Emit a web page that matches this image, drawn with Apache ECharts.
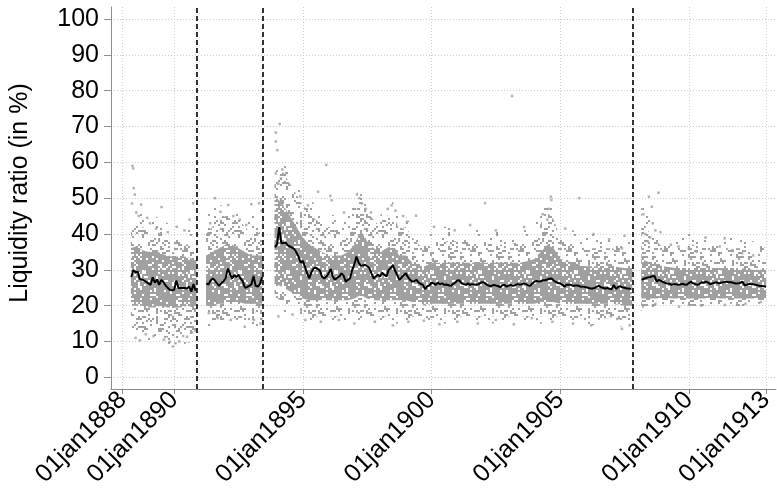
<!DOCTYPE html>
<html>
<head>
<meta charset="utf-8">
<title>Liquidity ratio</title>
<script src="https://cdn.jsdelivr.net/npm/echarts@6.0.0/dist/echarts.min.js"></script>
<style>
  html, body { margin: 0; padding: 0; background: #fff; }
  #main { width: 777px; height: 494px; }
</style>
</head>
<body>
<div id="main"></div>
<script>
// x values are decimal years
var xTicks = [1888, 1890, 1895, 1900, 1905, 1910, 1913];
var yTicks = [0, 10, 20, 30, 40, 50, 60, 70, 80, 90, 100];
var crisisDates = [1890.875, 1893.45, 1907.83];

// monthly average (black line), one array per segment, first month in lineStarts
var lineStarts = [1888 + 4 / 12, 1891 + 3 / 12, 1893 + 11 / 12, 1908 + 2 / 12];
var line1 = [28.0, 29.9, 29.3, 29.5, 27.4, 27.3, 27.0, 26.6, 26.2, 25.8,
  27.9, 26.4, 27.3, 25.8, 27.2, 26.6, 25.6, 25.0, 24.4, 24.3,
  24.4, 27.0, 24.9, 24.9, 24.9, 24.9, 24.8, 25.3, 23.9, 26.0, 24.2];
var line2 = [26.2, 25.9, 27.0, 27.6, 27.0, 26.2, 25.5, 26.3, 26.8, 27.6,
  30.4, 28.9, 27.6, 28.5, 28.0, 28.6, 27.6, 26.8, 25.0, 25.2,
  25.5, 25.9, 28.3, 25.5, 25.3, 26.0, 28.0];
var line3 = [36.2,
  37.2, 42.0, 37.4, 37.5, 37.6, 36.8, 36.5, 36.2, 35.8, 34.8, 33.7, 32.0,
  32.5, 30.9, 29.0, 27.6, 29.3, 30.4, 30.6, 30.2, 29.7, 28.0, 27.6, 28.1,
  29.0, 30.2, 28.1, 27.2, 27.8, 28.1, 29.0, 28.4, 26.7, 27.2, 27.6, 29.9,
  31.5, 33.7, 32.0, 31.2, 31.2, 31.4, 31.0, 30.5, 29.0, 27.6, 28.1, 28.6,
  28.1, 29.2, 28.6, 28.1, 29.9, 30.5, 31.3, 29.8, 28.5, 27.2, 27.8, 28.5,
  29.0, 28.0, 27.2, 26.7, 26.8, 27.2, 26.4, 26.1, 25.8, 24.6, 25.4, 25.6,
  26.4, 26.2, 25.8, 26.4, 26.0, 26.2, 25.8, 25.9, 25.7, 25.5, 26.0, 26.4,
  27.0, 27.1, 26.2, 26.0, 25.8, 26.2, 25.8, 26.0, 25.9, 25.8, 26.0, 26.4,
  26.6, 26.2, 25.8, 25.5, 25.5, 25.8, 25.6, 25.5, 25.1, 25.7, 25.8, 25.3,
  25.6, 25.8, 25.5, 25.7, 26.0, 25.9, 25.9, 26.2, 26.0, 25.7, 25.5, 26.2,
  26.7, 26.9, 26.7, 26.8, 27.1, 27.1, 27.3, 27.5, 27.6, 27.0, 26.6, 26.3,
  26.2, 25.8, 25.3, 25.8, 25.8, 25.8, 25.5, 25.6, 25.7, 25.4, 25.3, 25.3,
  25.1, 25.0, 24.8, 24.8, 24.9, 25.3, 25.5, 25.1, 25.0, 24.8, 24.9, 24.7,
  24.6, 25.8, 24.6, 25.2, 25.4, 25.1, 25.0, 24.8, 24.8, 24.6];
var line4 = [27.2, 27.5, 27.7, 27.9, 28.0, 28.2, 28.3, 26.7, 27.2, 26.9,
  26.6, 26.3, 26.2, 26.1, 25.8, 26.0, 26.0, 25.8, 25.9, 26.1, 25.9, 25.8,
  26.3, 26.7, 26.2, 26.0, 25.8, 26.1, 26.5, 26.4, 26.7, 26.4, 26.0, 26.2,
  26.4, 26.5, 26.2, 26.4, 26.5, 26.7, 26.6, 26.5, 26.5, 26.3, 26.2, 26.2,
  26.4, 26.7, 25.7, 25.8, 26.1, 26.0, 26.0, 25.8, 25.7, 25.5, 25.5, 25.4,
  25.3];

// spread of the individual observations per segment: dense core, sparse halo, thin fringe
var bandYears = [
  [1888.32, 1888.5, 1888.75, 1889.0, 1889.25, 1889.5, 1889.75, 1890.0, 1890.25, 1890.5, 1890.75, 1890.86],
  [1891.24, 1891.5, 1891.75, 1892.0, 1892.25, 1892.5, 1892.75, 1893.0, 1893.25, 1893.44],
  [1893.9, 1894.0, 1894.25, 1894.5, 1894.75, 1895.0, 1895.25, 1895.5, 1895.75,
   1896.0, 1896.25, 1896.5, 1896.75, 1897.0, 1897.25, 1897.5, 1897.75,
   1898.0, 1898.25, 1898.5, 1898.75, 1899.0, 1899.25, 1899.5, 1899.75,
   1900.0, 1900.5, 1901.0, 1901.5, 1902.0, 1902.5, 1903.0, 1903.5,
   1904.0, 1904.25, 1904.5, 1904.75, 1905.0, 1905.5, 1906.0, 1906.5, 1907.0, 1907.5, 1907.8],
  [1908.15, 1908.5, 1909.0, 1909.5, 1910.0, 1910.5, 1911.0, 1911.5, 1912.0, 1912.5, 1913.0]
];
var coreLo = [
  [20, 20, 20, 19.5, 19.5, 20, 19.5, 19.5, 19.5, 20, 19.5, 19.5],
  [20, 20, 20.5, 20.5, 21, 21, 20.5, 20.5, 20.5, 20.5],
  [26, 26, 25, 24, 23, 22, 21.5, 21.5, 21.5, 21.5, 21.5, 21.5, 21.5, 22, 23, 22, 21.5,
   21.5, 21.5, 21.5, 21.5, 21.5, 21, 21, 20, 20.5, 20.5, 20.5, 20.5, 20.5, 20.5, 20.5, 20.5,
   20.5, 21, 21, 21, 20.5, 20.5, 20.5, 20.5, 20.5, 20, 20],
  [22, 22, 22, 22, 22, 22, 22, 22, 22, 22, 22]
];
var coreHi = [
  [36, 36.5, 35.5, 35, 35.5, 34.5, 34, 33.5, 34, 33.5, 33, 33],
  [34, 35, 36, 37, 37, 36, 35, 34, 34, 34],
  [50, 50, 48, 45, 42, 39, 37, 36, 35, 34, 34, 34, 35, 37, 41, 38, 36,
   35, 36, 37, 34, 34, 32, 31, 31, 32, 32, 32, 32, 32, 32, 32, 32,
   33, 35, 37, 36, 33, 32, 31, 31, 31, 30.5, 30.5],
  [33, 32, 31, 30.5, 30.5, 30.5, 30.5, 30.5, 30.5, 30, 30]
];
var haloLo = [
  [14, 13, 13, 12, 12, 12, 11, 11, 11, 11.5, 12, 12],
  [16, 16, 16, 16, 16.5, 16.5, 16, 16, 16, 16],
  [22, 22, 21, 20, 19, 18, 17, 17, 17, 17, 17, 17, 17, 18, 18, 17, 17,
   17, 17, 17, 17, 17, 17, 16.5, 16.5, 16.5, 17, 17, 17, 17, 17, 17, 17,
   17, 17, 17, 17, 17, 16.5, 16.5, 16.5, 16.5, 16, 16],
  [19.5, 19.5, 20, 20, 20, 20, 20, 20.5, 20.5, 20.5, 20.5]
];
var haloHi = [
  [44, 43, 42, 41, 41, 40, 39, 38, 38, 37, 38, 40],
  [40, 42, 44, 45, 45, 44, 42, 40, 40, 42],
  [57, 58, 57, 54, 51, 48, 46, 44, 43, 42, 41, 42, 41, 45, 50, 46, 44,
   42, 45, 46, 41, 42, 39, 37, 36, 37, 38, 38, 38, 38, 37, 37, 38,
   39, 43, 46, 44, 39, 37, 36, 36, 36, 35, 35],
  [44, 40, 36, 36, 37, 37, 36, 36, 36, 35, 34]
];
var fringeLo = [
  [11, 10, 10, 9.5, 9.5, 9.5, 9, 8.5, 9, 9.5, 10, 10],
  [14, 14, 14, 14, 14.5, 14.5, 14, 14, 14, 14],
  [19, 19, 18, 17.5, 16.5, 16, 15.5, 15.5, 15.5, 15.5, 15.5, 15.5, 15.5, 16, 16, 15.5, 15.5,
   15.5, 15.5, 15, 15, 15, 15, 15, 15, 15, 15, 15, 15, 15, 15, 15, 15,
   15, 15, 15, 15, 15, 14.5, 14.5, 14.5, 14.5, 14, 14],
  [18.5, 18.5, 19, 19, 19, 19, 19, 19.5, 19.5, 19.5, 19.5]
];
var fringeHi = [
  [50, 48, 46, 45, 45, 44, 43, 42, 42, 42, 44, 46],
  [45, 47, 48, 48, 48, 47, 46, 45, 45, 47],
  [62, 62, 61, 58, 55, 52, 50, 48, 47, 46, 45, 46, 45, 50, 53, 50, 47,
   45, 48, 49, 44, 45, 42, 40, 40, 41, 42, 42, 42, 42, 41, 41, 42,
   43, 47, 50, 47, 43, 41, 40, 40, 40, 39, 39],
  [50, 44, 39, 39, 40, 40, 39, 39, 39, 38, 36]
];

// scattered single observations outside the dense cloud [year, ratio]
var dots = [
  [1888.38, 59.0], [1888.41, 58.3], [1888.43, 52.8], [1888.47, 51.0], [1888.36, 48.5], [1888.53, 46.0],
  [1888.62, 45.0], [1888.72, 48.2], [1888.95, 44.5], [1889.06, 43.0], [1889.3, 41.5], [1889.51, 47.5],
  [1889.75, 40.5], [1890.1, 42.0], [1890.4, 41.0], [1890.74, 48.6], [1890.6, 44.0],
  [1888.5, 11.0], [1888.67, 10.3], [1888.9, 12.0], [1889.2, 11.5], [1889.6, 10.5], [1889.83, 9.9],
  [1889.95, 8.6], [1890.05, 9.5], [1890.2, 10.0], [1890.35, 11.5], [1890.5, 11.3], [1890.7, 12.5], [1890.82, 13.0],
  [1891.58, 50.0], [1891.8, 46.2], [1892.1, 48.1], [1892.3, 45.0], [1892.55, 44.0], [1893.0, 48.3],
  [1893.3, 48.6], [1893.4, 46.5], [1891.4, 43.0], [1892.8, 42.5], [1891.35, 17.9], [1891.7, 16.5],
  [1892.2, 16.0], [1892.74, 14.1], [1893.1, 16.0], [1893.35, 15.0],
  [1894.10, 70.7], [1893.95, 68.3], [1893.95, 65.8], [1894.01, 63.4], [1893.95, 56.9], [1894.2, 58.0],
  [1894.35, 57.0], [1894.15, 55.5], [1894.3, 54.5], [1894.05, 54.0], [1895.91, 59.3], [1895.59, 51.8],
  [1896.07, 50.6], [1896.12, 49.4], [1894.9, 50.5], [1895.2, 48.0], [1896.6, 46.0], [1897.1, 51.0],
  [1897.2, 50.0], [1897.3, 48.5], [1897.45, 47.0], [1897.65, 46.0], [1898.3, 47.0], [1898.45, 48.0],
  [1898.6, 46.5], [1898.9, 45.0], [1899.04, 43.4], [1899.4, 45.1], [1900.1, 42.0], [1900.9, 41.0],
  [1901.5, 42.5], [1902.08, 48.6], [1902.5, 41.0], [1903.13, 78.5], [1903.6, 42.0], [1904.32, 45.5],
  [1904.55, 47.0], [1904.64, 50.4], [1904.66, 49.5], [1904.5, 44.0], [1905.74, 50.0], [1905.2, 41.5],
  [1906.3, 40.0], [1906.9, 38.5], [1907.5, 39.5], [1907.4, 36.0],
  [1894.05, 17.0], [1894.6, 17.5], [1895.1, 16.0], [1895.7, 15.5], [1896.4, 16.0], [1897.0, 15.0],
  [1897.8, 15.5], [1898.5, 14.5], [1899.1, 15.5], [1899.7, 15.8], [1900.31, 14.8], [1901.0, 15.5],
  [1901.8, 15.0], [1902.5, 16.0], [1903.2, 14.8], [1903.9, 16.5], [1904.7, 15.5], [1905.5, 15.0],
  [1906.2, 14.5], [1906.97, 17.0], [1907.22, 16.3], [1907.4, 13.5], [1907.7, 14.5],
  [1908.82, 51.5], [1908.45, 50.4], [1908.56, 47.6], [1908.23, 45.5], [1908.6, 43.0], [1908.7, 41.0],
  [1908.3, 40.0], [1908.5, 39.0], [1908.4, 38.0], [1908.9, 40.5], [1909.3, 37.0], [1909.6, 36.5],
  [1910.0, 36.0], [1910.65, 39.0], [1911.39, 38.8], [1911.2, 36.5], [1911.7, 35.5], [1912.07, 34.6],
  [1912.5, 34.0], [1910.3, 35.0], [1909.62, 19.7], [1908.7, 20.5], [1910.5, 20.0], [1911.4, 20.2],
  [1912.2, 20.5], [1912.8, 21.0]
];

var FONT = "'Liberation Sans', Arial, sans-serif";
var AXIS_GREY = '#8c8c8c';
var DOT_GREY = '#a0a0a0';
var lines = [line1, line2, line3, line4];
var series = [];

// fixed speckle texture so the bands read like a cloud of small markers
function cellHash(i, j, seed) {
  var h = Math.imul(i + seed * 31, 0x85ebca6b) ^ Math.imul(j + 0x632b, 0xc2b2ae35);
  h ^= h >>> 13; h = Math.imul(h, 0x27d4eb2d); h ^= h >>> 15;
  return (h >>> 0) / 4294967296;
}
function speckle(density, seed) {
  var c = document.createElement('canvas');
  c.width = 48; c.height = 48;
  var g = c.getContext('2d');
  g.fillStyle = DOT_GREY;
  for (var i = 0; i < 24; i++) {
    for (var j = 0; j < 24; j++) {
      if (cellHash(i, j, seed) < density) g.fillRect(i * 2, j * 2, 2, 2);
    }
  }
  return { image: c, repeat: 'repeat' };
}

// one polygon per segment, upper edge forward, lower edge back
function bandSeries(lo, hi, fill, z) {
  return {
    type: 'custom', z: z, silent: true, clip: true,
    data: bandYears.map(function (yrs, s) { return [yrs[0], lo[s][0]]; }),
    renderItem: function (params, api) {
      var s = params.dataIndex, yrs = bandYears[s], pts = [];
      for (var i = 0; i < yrs.length; i++) pts.push(api.coord([yrs[i], hi[s][i]]));
      for (var j = yrs.length - 1; j >= 0; j--) pts.push(api.coord([yrs[j], lo[s][j]]));
      return { type: 'polygon', shape: { points: pts }, style: { fill: fill } };
    }
  };
}

series.push(bandSeries(fringeLo, fringeHi, speckle(0.06, 3), 2));
series.push(bandSeries(haloLo, haloHi, speckle(0.2, 1), 2));
series.push(bandSeries(coreLo, coreHi, speckle(0.74, 2), 3));

series.push({
  type: 'scatter', z: 4, silent: true, symbol: 'rect', symbolSize: 2.5,
  itemStyle: { color: DOT_GREY },
  data: dots
});

lines.forEach(function (vals, s) {
  series.push({
    type: 'line', z: 5, symbol: 'none', silent: true,
    lineStyle: { color: '#000', width: 2 },
    data: vals.map(function (v, i) { return [lineStarts[s] + i / 12, v]; })
  });
});

// crisis markers
series[series.length - 1].markLine = {
  silent: true, symbol: 'none', label: { show: false },
  lineStyle: { color: '#000', type: [5, 3], width: 1.6 },
  data: crisisDates.map(function (d) { return { xAxis: d }; })
};

var chart = echarts.init(document.getElementById('main'));
chart.setOption({
  animation: false,
  backgroundColor: '#fff',
  grid: { left: 111, right: 0, top: 7, bottom: 105 },
  xAxis: {
    type: 'value', min: 1887.546, max: 1913.38,
    axisLine: { show: true, onZero: false, lineStyle: { color: AXIS_GREY } },
    axisTick: { show: true, length: 5, customValues: xTicks, lineStyle: { color: AXIS_GREY } },
    axisLabel: {
      customValues: xTicks, rotate: 45, margin: 7, color: '#000',
      fontSize: 25, fontFamily: FONT,
      formatter: function (v) { return '01jan' + Math.round(v); }
    },
    splitLine: { show: true, lineStyle: { color: '#cdcdcd', type: [1, 2] } }
  },
  yAxis: {
    type: 'value', min: -3.27, max: 103.35,
    name: 'Liquidity ratio (in %)', nameLocation: 'middle', nameGap: 78,
    nameTextStyle: { fontSize: 25, fontFamily: FONT, color: '#000', padding: [0, 0, 0, 10] },
    axisLine: { show: true, onZero: false, lineStyle: { color: AXIS_GREY } },
    axisTick: { show: true, length: 7, customValues: yTicks, lineStyle: { color: AXIS_GREY } },
    axisLabel: { customValues: yTicks, margin: 12, color: '#000', fontSize: 25, fontFamily: FONT },
    splitLine: { show: true, lineStyle: { color: '#cdcdcd', type: [1, 2] } }
  },
  series: series
});
</script>
</body>
</html>
